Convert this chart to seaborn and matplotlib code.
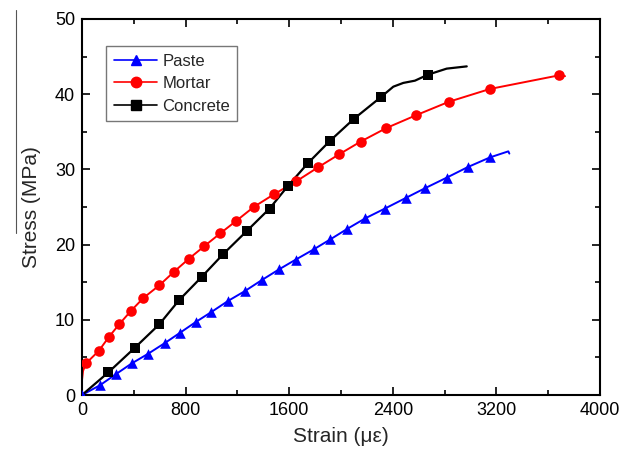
import matplotlib
matplotlib.use("Agg")
import matplotlib.pyplot as plt
from matplotlib.lines import Line2D
from matplotlib.ticker import MultipleLocator
import seaborn as sns
import pandas as pd

# ---- data ----
paste_x = [0, 139, 260, 384, 512, 639, 759, 878, 996, 1127, 1256, 1390, 1521, 1650,
           1788, 1918, 2049, 2188, 2340, 2500, 2649, 2816, 2978, 3151]
paste_y = [0, 1.3, 2.75, 4.2, 5.5, 6.9, 8.3, 9.7, 11.0, 12.5, 13.8, 15.3, 16.7, 18.0,
           19.35, 20.7, 22.1, 23.5, 24.8, 26.2, 27.5, 28.9, 30.3, 31.6]
paste_tail_x = [3292, 3300]
paste_tail_y = [32.4, 32.1]

mortar_x = [31, 131, 209, 289, 377, 474, 598, 711, 824, 945, 1068, 1187, 1326, 1483,
            1653, 1825, 1985, 2152, 2350, 2579, 2834, 3151, 3681]
mortar_y = [4.2, 5.9, 7.75, 9.44, 11.17, 12.9, 14.6, 16.4, 18.1, 19.8, 21.5, 23.1, 25.0,
            26.7, 28.4, 30.3, 32.0, 33.7, 35.5, 37.2, 39.0, 40.7, 42.5]
mortar_head_x = [0, 8]
mortar_head_y = [2.0, 3.2]
mortar_tail_x = [3730]
mortar_tail_y = [42.4]

concrete_x = [203, 409, 597, 749, 924, 1091, 1272, 1449, 1590, 1743, 1915, 2098, 2307, 2672]
concrete_y = [3.0, 6.3, 9.4, 12.6, 15.7, 18.75, 21.8, 24.8, 27.8, 30.8, 33.8, 36.7, 39.6, 42.6]
concrete_path_x = [0, 203, 409, 597, 749, 924, 1091, 1272, 1449, 1590, 1743, 1915, 2098,
                   2307, 2404, 2481, 2571, 2672, 2816, 2971]
concrete_path_y = [0, 3.0, 6.3, 9.4, 12.6, 15.7, 18.75, 21.8, 24.8, 27.8, 30.8, 33.8, 36.7,
                   39.6, 41.0, 41.5, 41.8, 42.6, 43.4, 43.7]

labels = ["Paste", "Mortar", "Concrete"]
colors = ["#0000ff", "#ff0000", "#000000"]
markers = ["^", "o", "s"]

# ---- styling ----
sns.set_style("ticks")
plt.rcParams["font.family"] = ["Liberation Sans", "DejaVu Sans"]

fig = plt.figure(figsize=(6.33, 4.58), dpi=100)
ax = fig.add_axes([82 / 633, 1 - 395 / 458, (600 - 82) / 633, (395 - 19) / 458])

paths = [
    (paste_x + paste_tail_x, paste_y + paste_tail_y),
    (mortar_head_x + mortar_x + mortar_tail_x, mortar_head_y + mortar_y + mortar_tail_y),
    (concrete_path_x, concrete_path_y),
]
pts = [(paste_x, paste_y), (mortar_x, mortar_y), (concrete_x, concrete_y)]

for (lx, ly), (mx, my), c, m, lw in zip(paths, pts, colors, markers, [1.4, 1.4, 1.6]):
    sns.lineplot(x=lx, y=ly, ax=ax, color=c, lw=lw, sort=False, estimator=None,
                 legend=False)
    sns.scatterplot(x=mx, y=my, ax=ax, color=c, marker=m, s=58, linewidth=0,
                    legend=False, zorder=3)

ax.set_xlim(0, 4000)
ax.set_ylim(0, 50)
ax.xaxis.set_major_locator(MultipleLocator(800))
ax.xaxis.set_minor_locator(MultipleLocator(400))
ax.yaxis.set_major_locator(MultipleLocator(10))
ax.yaxis.set_minor_locator(MultipleLocator(5))
ax.tick_params(which="both", direction="in", top=True, right=True, width=1.2,
               labelsize=13, colors="black")
ax.tick_params(which="major", length=6, pad=5)
ax.tick_params(which="minor", length=3.5)
for s in ax.spines.values():
    s.set_linewidth(1.5)
    s.set_color("black")

ax.set_xlabel("Strain (με)", fontsize=15, labelpad=6)
ax.set_ylabel("Stress (MPa)", fontsize=15, labelpad=10)

handles = [Line2D([], [], color=c, marker=m, lw=1.2, markersize=7.5)
           for c, m in zip(colors, markers)]
leg = ax.legend(handles, labels, loc="upper left", bbox_to_anchor=(0.047, 0.928),
                fontsize=12, frameon=True, fancybox=False, edgecolor="#555555",
                handlelength=2.6, borderpad=0.45, labelspacing=0.45, handletextpad=0.3,
                borderaxespad=0)
leg.get_frame().set_linewidth(1.0)

# thin vertical stroke seen at the far left of the reference image
fig.add_artist(Line2D([16 / 633, 16 / 633], [1 - 10 / 458, 1 - 233 / 458],
                      color="#555555", lw=0.8))

fig.savefig("out.png", dpi=100)
